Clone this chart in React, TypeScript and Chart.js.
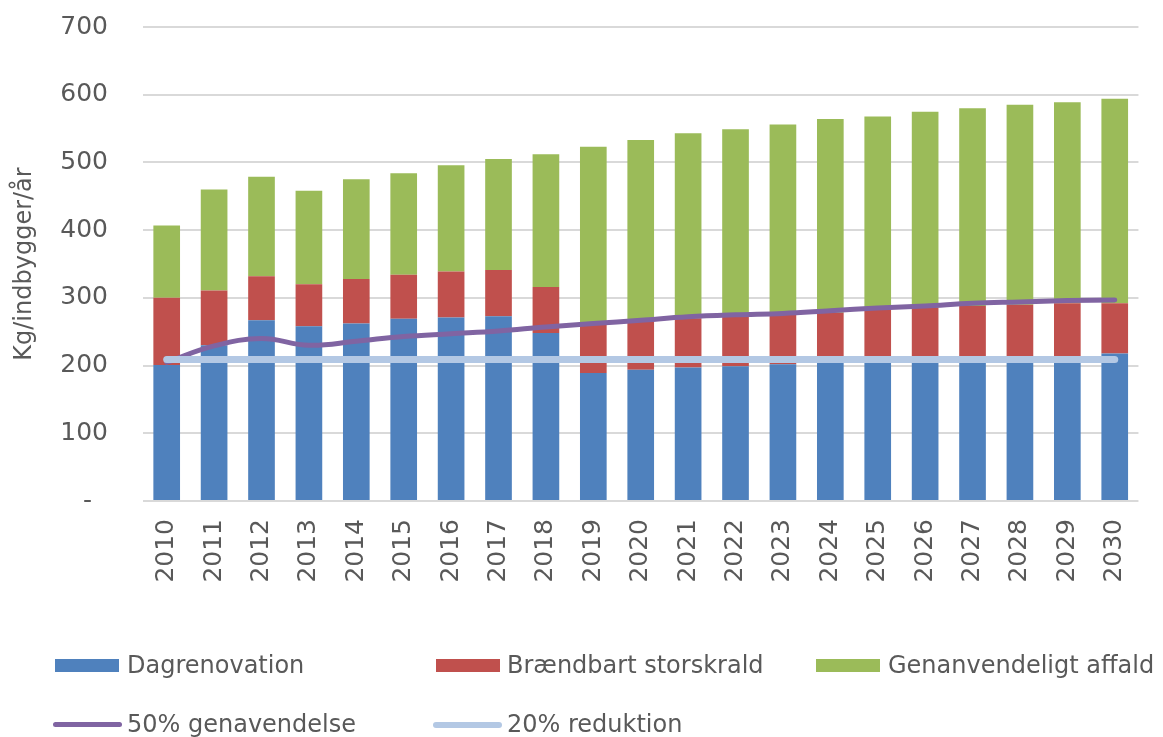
import React, { useEffect, useRef } from "react";
import { Chart, registerables } from "chart.js";

Chart.register(...registerables);

const years = [
  "2010", "2011", "2012", "2013", "2014", "2015", "2016", "2017", "2018", "2019", "2020",
  "2021", "2022", "2023", "2024", "2025", "2026", "2027", "2028", "2029", "2030",
];

// stacked bar segments (kg/indbygger/år)
const dagrenovation = [201, 230, 267, 258, 262, 269, 271, 273, 248, 189, 194, 197, 199, 202, 204, 206, 208, 210, 212, 214, 218];
const braendbart = [99, 81, 65, 62, 66, 65, 68, 68, 68, 73, 72, 73, 74, 73, 74, 76, 77, 78, 78, 78, 74];
const genanvendeligt = [107, 149, 147, 138, 147, 150, 157, 164, 196, 261, 267, 273, 276, 281, 286, 286, 290, 292, 295, 297, 302];

// target lines
const genanvendelse50 = [205, 229, 240, 230, 236, 243, 247, 251, 257, 262, 267, 272, 275, 277, 281, 285, 288, 292, 294, 296, 297];
const reduktion20 = [209, 209, 209, 209, 209, 209, 209, 209, 209, 209, 209, 209, 209, 209, 209, 209, 209, 209, 209, 209, 209];

const yTicks = [0, 100, 200, 300, 400, 500, 600, 700];

const seriesLabels = ["Dagrenovation", "Brændbart storskrald", "Genanvendeligt affald", "50% genavendelse", "20% reduktion"];
const seriesColors = ["#4F81BD", "#C0504D", "#9BBB59", "#8064A2", "#B3C8E4"];

const FONT = "'DejaVu Sans', Verdana, sans-serif";
const TEXT = "#595959";

export default function App() {
  const ref = useRef<HTMLCanvasElement | null>(null);

  useEffect(() => {
    if (!ref.current) return;
    const chart = new Chart(ref.current, {
      type: "bar",
      data: {
        labels: years,
        datasets: [
          {
            type: "line",
            label: seriesLabels[4],
            data: reduktion20,
            borderColor: seriesColors[4],
            backgroundColor: seriesColors[4],
            borderWidth: 7,
            borderCapStyle: "round",
            pointRadius: 0,
            stack: "l2",
            order: 0,
          } as any,
          {
            type: "line",
            label: seriesLabels[3],
            data: genanvendelse50,
            borderColor: seriesColors[3],
            backgroundColor: seriesColors[3],
            borderWidth: 5,
            borderCapStyle: "round",
            tension: 0.4,
            pointRadius: 0,
            stack: "l1",
            order: 1,
          } as any,
          {
            label: seriesLabels[0],
            data: dagrenovation,
            backgroundColor: seriesColors[0],
            stack: "bars",
            order: 2,
          },
          {
            label: seriesLabels[1],
            data: braendbart,
            backgroundColor: seriesColors[1],
            stack: "bars",
            order: 2,
          },
          {
            label: seriesLabels[2],
            data: genanvendeligt,
            backgroundColor: seriesColors[2],
            stack: "bars",
            order: 2,
          },
        ],
      },
      options: {
        animation: false,
        responsive: false,
        devicePixelRatio: 1,
        layout: { padding: { left: 0, right: 11, top: 27, bottom: 0 } },
        datasets: {
          bar: { barPercentage: 0.625, categoryPercentage: 0.9 },
        },
        plugins: {
          legend: { display: false },
          tooltip: { enabled: false },
        },
        scales: {
          x: {
            stacked: true,
            grid: { display: false, drawTicks: false },
            border: { display: false },
            ticks: {
              minRotation: 90,
              maxRotation: 90,
              padding: 18,
              color: TEXT,
              font: { family: FONT, size: 25 },
            },
            afterFit: (scale: any) => {
              scale.height = 236;
            },
          },
          y: {
            stacked: true,
            min: 0,
            max: 700,
            afterBuildTicks: (scale: any) => {
              scale.ticks = yTicks.map((v) => ({ value: v }));
            },
            grid: { color: "#d9d9d9", lineWidth: 2, drawTicks: false },
            border: { display: false },
            ticks: {
              padding: 35,
              color: TEXT,
              font: { family: FONT, size: 25 },
              callback: (v: any) => (Number(v) === 0 ? "-  " : String(v)),
            },
            title: {
              display: true,
              text: "Kg/indbygger/år",
              color: TEXT,
              font: { family: FONT, size: 24 },
              padding: { top: 10, bottom: 0 },
            },
            afterFit: (scale: any) => {
              scale.width = 143;
              scale.paddingTop = 0;
              scale.paddingBottom = 0;
            },
          },
        },
      },
    });
    return () => chart.destroy();
  }, []);

  const legendText: React.CSSProperties = {
    position: "absolute",
    fontFamily: FONT,
    fontSize: 24,
    color: TEXT,
    lineHeight: "28px",
    whiteSpace: "nowrap",
  };

  const boxItems = [
    { i: 0, boxX: 55, textX: 127 },
    { i: 1, boxX: 436, textX: 507 },
    { i: 2, boxX: 816, textX: 888 },
  ];
  const lineItems = [
    { i: 3, lineX: 53, textX: 127 },
    { i: 4, lineX: 433, textX: 507 },
  ];

  return (
    <div
      style={{
        position: "absolute",
        left: 0,
        top: 0,
        width: 1163,
        height: 737,
        overflow: "hidden",
        background: "#ffffff",
      }}
    >
      <canvas ref={ref} width={1163} height={737} style={{ display: "block" }} />
      {boxItems.map((it) => (
        <React.Fragment key={it.i}>
          <div
            style={{
              position: "absolute",
              left: it.boxX,
              top: 659,
              width: 64,
              height: 13,
              background: seriesColors[it.i],
            }}
          />
          <div style={{ ...legendText, left: it.textX, top: 651 }}>{seriesLabels[it.i]}</div>
        </React.Fragment>
      ))}
      {lineItems.map((it) => (
        <React.Fragment key={it.i}>
          <div
            style={{
              position: "absolute",
              left: it.lineX,
              top: 722,
              width: 69,
              height: it.i === 4 ? 6 : 5,
              borderRadius: 3,
              background: seriesColors[it.i],
            }}
          />
          <div style={{ ...legendText, left: it.textX, top: 710 }}>{seriesLabels[it.i]}</div>
        </React.Fragment>
      ))}
    </div>
  );
}
